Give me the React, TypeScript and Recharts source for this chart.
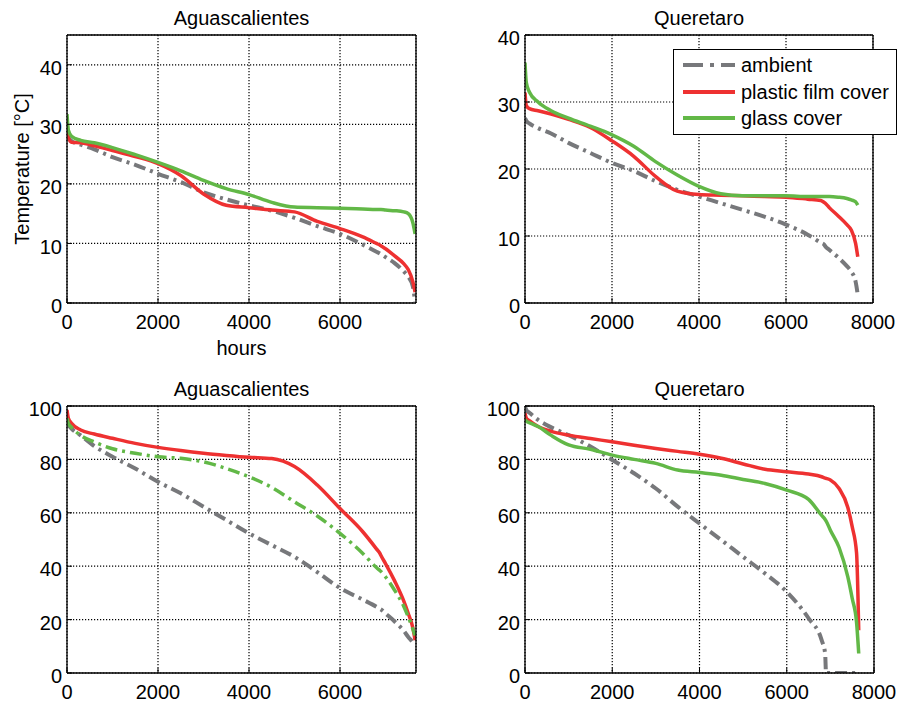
import { CartesianGrid, Line, LineChart, XAxis, YAxis } from "recharts"

const FONT = '"Liberation Sans", Arial, Helvetica, sans-serif'
const GRAY = "#77787b"
const RED = "#ee3131"
const GREEN = "#62b847"
const DASH_DOT = "12 5 3 5"

// hours of the year, sorted duration curves
const HOURS = [0, 30, 100, 300, 600, 1000, 1500, 2000, 2500, 3000, 3500, 4000, 4500, 5000, 5500, 6000, 6500, 6800, 6880, 6900, 7000, 7200, 7400, 7500, 7600, 7650]

// temperature [°C], Aguascalientes
const AGS_T_AMBIENT = [28.3, 27.8, 27.2, 26.6, 25.8, 24.5, 23.2, 21.7, 20.3, 18.6, 17.4, 16.4, 15.5, 14.3, 12.9, 11.6, 9.8, 8.6, 8.3, 8.2, 7.7, 6.7, 5.3, 4.4, 2.8, 0.2]
const AGS_T_PLASTIC = [29.0, 27.8, 27.0, 26.9, 26.4, 25.6, 24.6, 23.4, 21.4, 18.3, 16.4, 16.0, 15.6, 15.3, 13.7, 12.5, 11.1, 10.0, 9.7, 9.6, 9.1, 7.9, 6.6, 5.6, 3.6, 1.8]
const AGS_T_GLASS = [31.7, 29.0, 28.0, 27.3, 26.9, 26.1, 24.9, 23.6, 22.2, 20.6, 19.2, 18.2, 16.9, 16.1, 16.0, 15.9, 15.8, 15.7, 15.7, 15.7, 15.6, 15.5, 15.3, 15.0, 13.5, 11.6]

// temperature [°C], Queretaro
const QRO_T_AMBIENT = [27.6, 27.2, 26.8, 26.1, 25.3, 23.9, 22.4, 20.9, 19.7, 18.2, 16.9, 15.9, 14.9, 13.9, 12.9, 11.7, 10.2, 9.0, 8.7, 8.5, 7.9, 6.8, 5.5, 4.7, 3.2, 1.2]
const QRO_T_PLASTIC = [31.4, 29.5, 29.0, 28.7, 28.2, 27.4, 26.2, 24.2, 21.9, 18.9, 16.7, 16.2, 16.1, 16.0, 15.9, 15.8, 15.5, 15.3, 15.0, 14.9, 14.2, 13.0, 11.7, 10.9, 8.9, 6.9]
const QRO_T_GLASS = [35.9, 32.9, 31.5, 30.0, 28.7, 27.6, 26.4, 25.1, 23.4, 21.1, 19.1, 17.4, 16.3, 16.0, 16.0, 16.0, 15.9, 15.9, 15.9, 15.9, 15.9, 15.8, 15.6, 15.4, 15.1, 14.6]

// relative humidity [%], Aguascalientes
const AGS_H_AMBIENT = [94.1, 93.0, 91.5, 89.0, 85.0, 81.0, 76.6, 71.6, 67.3, 62.3, 57.3, 52.3, 47.9, 43.5, 37.8, 31.8, 27.5, 24.8, 24.0, 23.8, 22.3, 19.3, 15.8, 13.5, 11.5, 10.4]
const AGS_H_PLASTIC = [98.5, 95.4, 93.5, 91.0, 89.5, 87.9, 86.0, 84.5, 83.3, 82.3, 81.5, 80.8, 80.3, 77.3, 70.4, 61.6, 52.9, 46.5, 44.7, 44.0, 41.0, 34.5, 27.0, 22.3, 17.0, 12.3]
const AGS_H_GLASS = [95.4, 93.5, 92.0, 89.0, 86.5, 84.0, 82.3, 81.0, 80.4, 79.1, 76.6, 73.5, 69.5, 64.1, 58.8, 52.3, 44.8, 39.5, 38.3, 38.0, 36.0, 31.0, 25.0, 21.0, 16.5, 14.1]

// relative humidity [%], Queretaro
const QRO_H_AMBIENT = [99.8, 98.5, 97.5, 94.8, 92.0, 89.1, 84.8, 79.8, 74.8, 69.1, 62.3, 56.0, 49.8, 43.5, 37.3, 30.4, 20.5, 12.3, 7.3, 0, 0, 0, 0, 0, 0, 0]
const QRO_H_PLASTIC = [97.3, 95.5, 94.5, 92.3, 90.5, 89.1, 87.8, 86.6, 85.3, 84.1, 83.0, 81.9, 80.4, 78.3, 76.3, 75.4, 74.5, 73.5, 73.0, 72.9, 72.3, 69.1, 62.0, 54.8, 45.0, 16.0]
const QRO_H_GLASS = [95.0, 94.3, 93.8, 92.3, 89.0, 85.4, 83.8, 81.6, 80.0, 78.5, 76.0, 75.1, 74.1, 72.5, 71.0, 68.5, 65.0, 59.0, 57.5, 57.0, 53.5, 47.0, 36.0, 28.0, 19.0, 7.3]

const X_TICKS_SHORT = [0, 2000, 4000, 6000]
const X_TICKS_LONG = [0, 2000, 4000, 6000, 8000]
const T_TICKS_AGS = [0, 10, 20, 30, 40]
const T_TICKS_QRO = [0, 10, 20, 30, 40]
const H_TICKS = [0, 20, 40, 60, 80, 100]

const LEGEND = [
  { name: "ambient", color: GRAY, dash: "20 7 4 7" },
  { name: "plastic film cover", color: RED, dash: undefined },
  { name: "glass cover", color: GREEN, dash: undefined },
]

const rowsOf = (ambient: number[], plastic: number[], glass: number[]) =>
  HOURS.map((h, i) => ({ h, ambient: ambient[i], plastic: plastic[i], glass: glass[i] }))

const AXIS_LINE = { stroke: "#000", strokeWidth: 1.3 }
const TICK_LINE = { stroke: "#000", strokeWidth: 1 }
const TICK_TEXT = { fontSize: 20, fill: "#000", fontFamily: FONT }

function Panel({
  x,
  y,
  w,
  h,
  title,
  rows,
  xMax,
  xTicks,
  yMax,
  yTicks,
  glassDashed,
  yLabel,
  xLabel,
}: {
  x: number
  y: number
  w: number
  h: number
  title: string
  rows: { h: number; ambient: number; plastic: number; glass: number }[]
  xMax: number
  xTicks: number[]
  yMax: number
  yTicks: number[]
  glassDashed?: boolean
  yLabel?: string
  xLabel?: string
}) {
  // plot area sits at (67, 35) inside the chart box
  const chartW = w + 67 + 30
  const chartH = h + 35 + 50
  return (
    <div style={{ position: "absolute", left: x - 67, top: y - 35, width: chartW, height: chartH }}>
      <div
        style={{
          position: "absolute",
          left: 67,
          width: w,
          top: 6,
          lineHeight: "24px",
          fontSize: 20,
          textAlign: "center",
        }}
      >
        {title}
      </div>
      {yLabel && (
        <div
          style={{
            position: "absolute",
            left: 22,
            top: 35 + h / 2,
            transform: "translate(-50%, -50%) rotate(-90deg)",
            whiteSpace: "nowrap",
            fontSize: 20,
            lineHeight: "24px",
          }}
        >
          {yLabel}
        </div>
      )}
      {xLabel && (
        <div
          style={{
            position: "absolute",
            left: 67,
            width: w,
            top: 35 + h + 33,
            lineHeight: "24px",
            fontSize: 20,
            textAlign: "center",
          }}
        >
          {xLabel}
        </div>
      )}
      <LineChart
        width={chartW}
        height={chartH}
        data={rows}
        margin={{ top: 34, right: 29, bottom: 20, left: 7 }}
      >
        <CartesianGrid stroke="#000" strokeWidth={1.2} strokeDasharray="1.2 1.8" />
        <XAxis
          dataKey="h"
          type="number"
          domain={[0, xMax]}
          ticks={xTicks}
          interval={0}
          height={30}
          tickSize={-5}
          tickMargin={17}
          axisLine={AXIS_LINE}
          tickLine={TICK_LINE}
          tick={TICK_TEXT}
          allowDataOverflow
        />
        <XAxis
          xAxisId="top"
          orientation="top"
          type="number"
          domain={[0, xMax]}
          ticks={xTicks}
          interval={0}
          height={1}
          tickSize={-5}
          axisLine={AXIS_LINE}
          tickLine={TICK_LINE}
          tick={false}
          allowDataOverflow
        />
        <YAxis
          type="number"
          domain={[0, yMax]}
          ticks={yTicks}
          interval={0}
          width={60}
          tickSize={-5}
          tickMargin={10}
          axisLine={AXIS_LINE}
          tickLine={TICK_LINE}
          tick={{ ...TICK_TEXT, dy: 3 }}
          allowDataOverflow
        />
        <YAxis
          yAxisId="right"
          orientation="right"
          type="number"
          domain={[0, yMax]}
          ticks={yTicks}
          interval={0}
          width={1}
          tickSize={-5}
          axisLine={AXIS_LINE}
          tickLine={TICK_LINE}
          tick={false}
          allowDataOverflow
        />
        <Line
          dataKey="ambient"
          type="monotone"
          stroke={GRAY}
          strokeWidth={4}
          strokeDasharray={DASH_DOT}
          dot={false}
          activeDot={false}
          isAnimationActive={false}
        />
        <Line
          dataKey="plastic"
          type="monotone"
          stroke={RED}
          strokeWidth={3.5}
          dot={false}
          activeDot={false}
          isAnimationActive={false}
        />
        <Line
          dataKey="glass"
          type="monotone"
          stroke={GREEN}
          strokeWidth={3.5}
          strokeDasharray={glassDashed ? DASH_DOT : undefined}
          dot={false}
          activeDot={false}
          isAnimationActive={false}
        />
      </LineChart>
    </div>
  )
}

function LegendBox() {
  return (
    <div
      style={{
        position: "absolute",
        left: 673,
        top: 49,
        width: 224,
        height: 86,
        boxSizing: "border-box",
        border: "1.5px solid #000",
        background: "#fff",
      }}
    >
      {LEGEND.map((item, i) => (
        <div
          key={item.name}
          style={{
            position: "absolute",
            left: 8,
            top: 3 + i * 26.5,
            height: 24,
            display: "flex",
            alignItems: "center",
            whiteSpace: "nowrap",
            fontSize: 20,
            lineHeight: "24px",
          }}
        >
          <svg width={54} height={10} style={{ marginRight: 5 }}>
            <line
              x1={1}
              x2={53}
              y1={5}
              y2={5}
              stroke={item.color}
              strokeWidth={4}
              strokeDasharray={item.dash}
            />
          </svg>
          {item.name}
        </div>
      ))}
    </div>
  )
}

export default function App() {
  return (
    <div
      style={{
        position: "absolute",
        left: 0,
        top: 0,
        width: 898,
        height: 704,
        background: "#fff",
        fontFamily: FONT,
        color: "#000",
        overflow: "hidden",
      }}
    >
      <Panel
        x={67}
        y={35}
        w={349}
        h={268}
        title="Aguascalientes"
        rows={rowsOf(AGS_T_AMBIENT, AGS_T_PLASTIC, AGS_T_GLASS)}
        xMax={7670}
        xTicks={X_TICKS_SHORT}
        yMax={45}
        yTicks={T_TICKS_AGS}
        yLabel="Temperature [°C]"
        xLabel="hours"
      />
      <Panel
        x={525}
        y={35}
        w={348}
        h={268}
        title="Queretaro"
        rows={rowsOf(QRO_T_AMBIENT, QRO_T_PLASTIC, QRO_T_GLASS)}
        xMax={8000}
        xTicks={X_TICKS_LONG}
        yMax={40}
        yTicks={T_TICKS_QRO}
      />
      <Panel
        x={67}
        y={406}
        w={349}
        h={267}
        title="Aguascalientes"
        rows={rowsOf(AGS_H_AMBIENT, AGS_H_PLASTIC, AGS_H_GLASS)}
        xMax={7670}
        xTicks={X_TICKS_SHORT}
        yMax={100}
        yTicks={H_TICKS}
        glassDashed
      />
      <Panel
        x={525}
        y={406}
        w={349}
        h={267}
        title="Queretaro"
        rows={rowsOf(QRO_H_AMBIENT, QRO_H_PLASTIC, QRO_H_GLASS)}
        xMax={8000}
        xTicks={X_TICKS_LONG}
        yMax={100}
        yTicks={H_TICKS}
      />
      <LegendBox />
    </div>
  )
}
